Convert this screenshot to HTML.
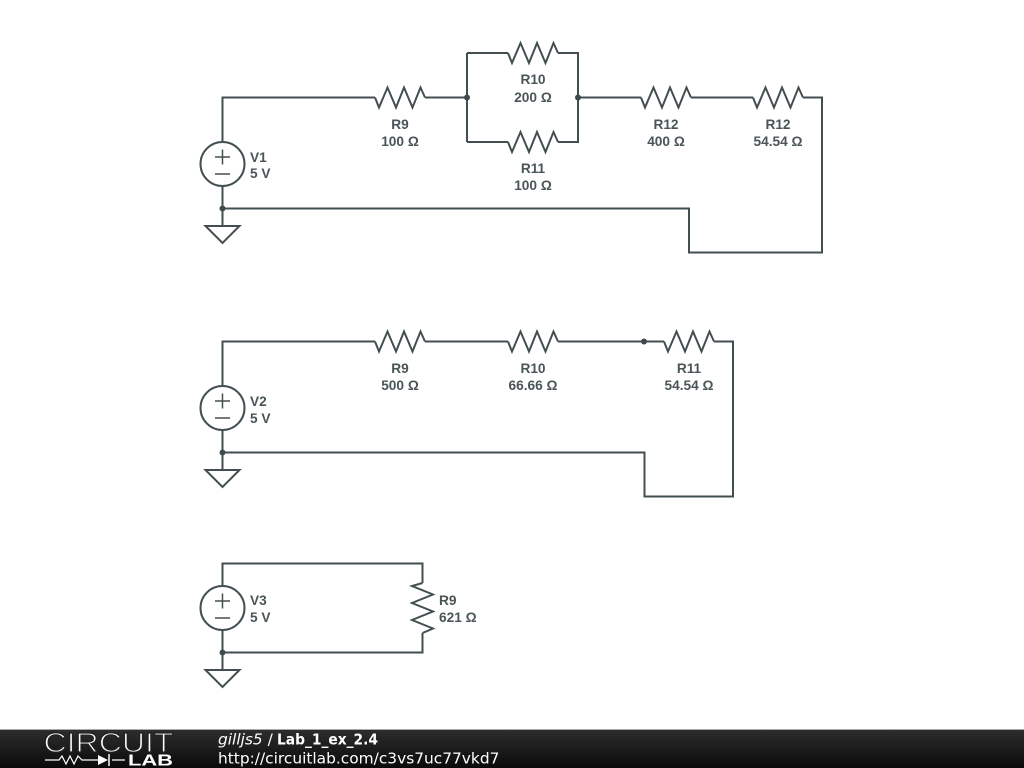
<!DOCTYPE html>
<html><head><meta charset="utf-8"><style>
html,body{margin:0;padding:0;background:#fff;width:1024px;height:768px;overflow:hidden}
svg{display:block}
.w{fill:none;stroke:#434e51;stroke-width:2;stroke-linejoin:miter}
.s{fill:none;stroke:#434e51;stroke-width:1.500}
.t{font-family:"Liberation Sans",sans-serif;font-weight:bold;font-size:13.700px;fill:#4a5558}
.m{text-anchor:middle}
.f{font-family:"DejaVu Sans",sans-serif;font-size:15.400px;fill:#fff}
</style></head><body>
<svg width="1024" height="768" viewBox="0 0 1024 768" xmlns="http://www.w3.org/2000/svg">
<defs>
<linearGradient id="g" x1="0" y1="0" x2="0" y2="1"><stop offset="0" stop-color="#2e2e2e"/><stop offset="1" stop-color="#0a0a0a"/></linearGradient>
<path id="r" class="w" d="M-25 0L-21 10L-12.500 -10L-4 10L4 -10L12.500 10L20.500 -10L25 0"/>
<g id="v"><circle class="w" cx="0" cy="0" r="22"/><path class="s" d="M-7.500 -7H7.500M0 -14.500V0.500M-7.500 10H7.500"/></g>
<path id="gnd" class="w" d="M0 0V17M-17 17H17L0 34Z"/>
<circle id="d" r="3" fill="#3f4a4d"/>
</defs>

<path class="w" d="M222.500 141V97.500H375M425 97.500H467M467 53V142M467 53H508M558 53H578V142H558M508 142H467M578 97.500H641M691 97.500H753M803 97.500H822V252.500H689V208.500H222.500M222.500 186V208"/>
<use href="#r" x="400" y="97.500"/><use href="#r" x="533" y="53"/><use href="#r" x="533" y="142"/><use href="#r" x="666" y="97.500"/><use href="#r" x="778" y="97.500"/>
<use href="#v" x="222.500" y="164"/><use href="#gnd" x="222.500" y="209"/>
<use href="#d" x="222.500" y="208.500"/><use href="#d" x="467" y="97.500"/><use href="#d" x="578" y="97.500"/>
<text class="t m" x="400" y="129">R9</text><text class="t m" x="400" y="146">100 Ω</text>
<text class="t m" x="533" y="84">R10</text><text class="t m" x="533" y="102">200 Ω</text>
<text class="t m" x="533" y="173">R11</text><text class="t m" x="533" y="190">100 Ω</text>
<text class="t m" x="666" y="129">R12</text><text class="t m" x="666" y="146">400 Ω</text>
<text class="t m" x="778" y="129">R12</text><text class="t m" x="778" y="146">54.54 Ω</text>
<text class="t" x="250" y="162">V1</text><text class="t" x="250" y="178">5 V</text>

<path class="w" d="M222.500 386V341.500H375M425 341.500H508M558 341.500H664M714 341.500H733V496.500H644.500V452.500H222.500M222.500 430V452"/>
<use href="#r" x="400" y="341.500"/><use href="#r" x="533" y="341.500"/><use href="#r" x="689" y="341.500"/>
<use href="#v" x="222.500" y="408"/><use href="#gnd" x="222.500" y="453"/>
<use href="#d" x="222.500" y="452.500"/><use href="#d" x="644" y="341.500"/>
<text class="t m" x="400" y="373">R9</text><text class="t m" x="400" y="390">500 Ω</text>
<text class="t m" x="533" y="373">R10</text><text class="t m" x="533" y="390">66.66 Ω</text>
<text class="t m" x="689" y="373">R11</text><text class="t m" x="689" y="390">54.54 Ω</text>
<text class="t" x="250" y="406">V2</text><text class="t" x="250" y="423">5 V</text>

<path class="w" d="M222.500 586V563.500H422.500V583M422.500 633V652.500H222.500M222.500 630V652"/>
<path class="w" d="M422.500 583L412 586L433 594.500L412 603L433 611.500L412 620L433 628.500L422.500 633"/>
<use href="#v" x="222.500" y="608"/><use href="#gnd" x="222.500" y="653"/>
<use href="#d" x="222.500" y="652.500"/>
<text class="t" x="439" y="605">R9</text><text class="t" x="439" y="622">621 Ω</text>
<text class="t" x="250" y="605">V3</text><text class="t" x="250" y="622">5 V</text>

<rect x="0" y="729" width="1024" height="39" fill="url(#g)"/>
<rect x="0" y="729" width="1024" height="1" fill="#aaa"/>
<text x="43.500" y="752" font-family="Liberation Sans,sans-serif" font-size="27.500" textLength="130" lengthAdjust="spacingAndGlyphs" fill="#fff" stroke="#222" stroke-width="1.200" paint-order="fill stroke">CIRCUIT</text>
<path d="M45 760H59L62 756L66 764L70 756L74 764L78 756L82 760H98M125 760H112" fill="none" stroke="#fff" stroke-width="1.200"/>
<path d="M98 755V765L108 760Z" fill="#fff"/><path d="M109 754V766" stroke="#fff" stroke-width="1.500"/>
<text x="128" y="765.500" font-family="Liberation Sans,sans-serif" font-weight="bold" font-size="16" textLength="45" lengthAdjust="spacingAndGlyphs" fill="#fff">LAB</text>
<text class="f" x="218" y="744.500"><tspan font-style="italic">gilljs5</tspan> /</text>
<text class="f" x="277" y="744.500" font-weight="bold" textLength="101" lengthAdjust="spacingAndGlyphs">Lab_1_ex_2.4</text>
<text class="f" x="218" y="763.500">http://circuitlab.com/c3vs7uc77vkd7</text>
</svg>
</body></html>
